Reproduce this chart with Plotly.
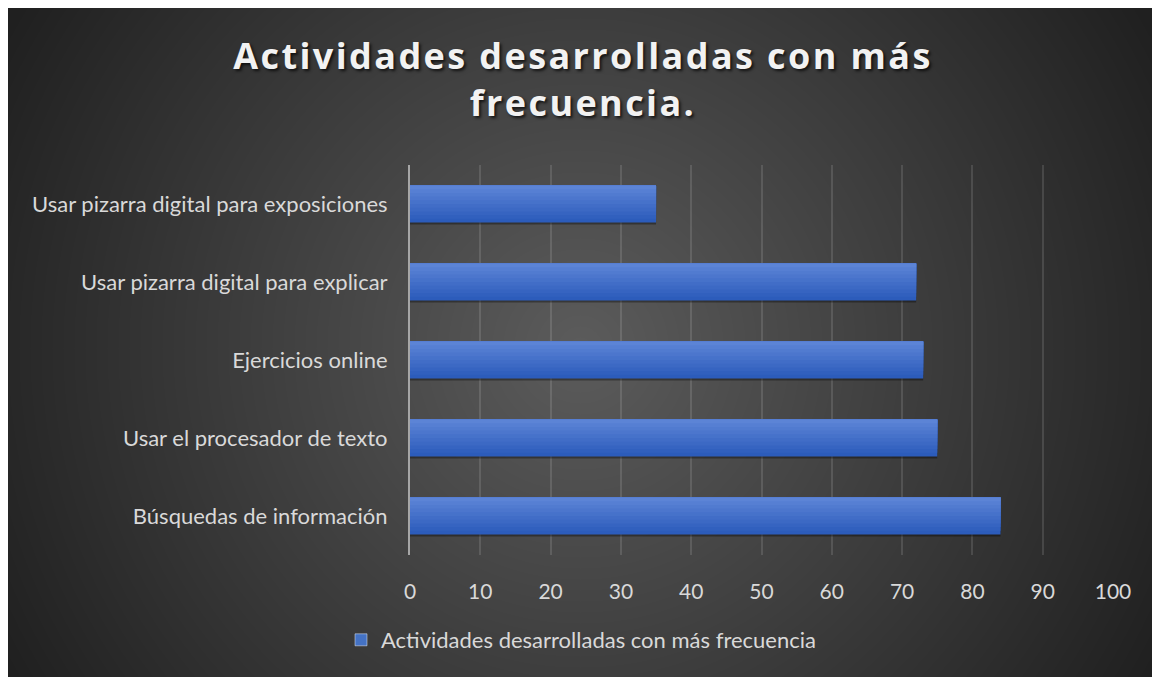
import base64
import struct
import zlib

import numpy as np
import plotly.graph_objects as go

# Datos
categorias = [
    "Búsquedas de información",
    "Usar el procesador de texto",
    "Ejercicios online",
    "Usar pizarra digital para explicar",
    "Usar pizarra digital para exposiciones",
]
valores = [84, 75, 73, 72, 35]
serie = "Actividades desarrolladas con más frecuencia"
titulo = "Actividades desarrolladas con más<br>frecuencia."
ticks_x = [0, 10, 20, 30, 40, 50, 60, 70, 80, 90, 100]

W, H = 1152, 677
L, R, T, B = 410, 39, 165, 122
pw, ph = W - L - R, H - T - B
borde = 8  # franja blanca arriba y a la izquierda


def fondo_radial(w, h, cx, cy):
    # degradado radial gris oscuro, como el estilo de Excel
    yy, xx = np.mgrid[0:h, 0:w]
    d = np.sqrt((xx - cx) ** 2 + (yy - cy) ** 2)
    v = 92 - 60 * np.clip(d / 660.0, 0, 1)
    img = v.astype(np.uint8)
    raw = b"".join(b"\x00" + img[i].tobytes() for i in range(h))

    def chunk(tag, data):
        c = struct.pack(">I", len(data)) + tag + data
        return c + struct.pack(">I", zlib.crc32(tag + data) & 0xFFFFFFFF)

    png = b"\x89PNG\r\n\x1a\n"
    png += chunk(b"IHDR", struct.pack(">IIBBBBB", w, h, 8, 0, 0, 0, 0))
    png += chunk(b"IDAT", zlib.compress(raw, 9))
    png += chunk(b"IEND", b"")
    return "data:image/png;base64," + base64.b64encode(png).decode()


bg = fondo_radial(W - borde, H - borde, 572, 340)

ancho = 0.474
fig = go.Figure()

# sombra bajo las barras
fig.add_trace(go.Bar(
    y=categorias, x=valores, orientation="h", width=ancho, offset=-ancho / 2 - 0.025,
    marker=dict(color="rgba(0,0,0,0.35)", line=dict(width=0)),
    showlegend=False, hoverinfo="skip",
))

# degradado vertical de las barras, por capas
n = 10
oscuro = np.array([44, 92, 187])
claro = np.array([92, 132, 214])
for k in range(n):
    h_k = ancho * (n - k) / n
    c = oscuro + (claro - oscuro) * k / (n - 1)
    fig.add_trace(go.Bar(
        y=categorias, x=valores, orientation="h", width=h_k, offset=ancho / 2 - h_k,
        marker=dict(color="rgb(%d,%d,%d)" % tuple(c), line=dict(width=0)),
        showlegend=False, hoverinfo="skip" if k else None,
    ))

# traza solo para la leyenda
fig.add_trace(go.Bar(
    y=[None], x=[None], orientation="h", name=serie,
    marker=dict(color="#4472c4"), showlegend=True,
))

fig.update_layout(
    width=W, height=H,
    margin=dict(l=L, r=R, t=T, b=B),
    paper_bgcolor="white",
    plot_bgcolor="rgba(0,0,0,0)",
    barmode="overlay",
    font=dict(family="Lato", color="#d9d9d9", size=22),
    title=dict(
        text=titulo, x=583 / W, xanchor="center", y=1 - 69 / H, yanchor="middle",
        xref="container", yref="container",
        font=dict(family="Open Sans", size=36, color="#f2f2f2", weight="bold",
                  shadow="2px 2px 3px rgba(0,0,0,0.7)"),
    ),
    legend=dict(
        orientation="h", x=(341 - L) / pw, xanchor="left", y=(T + ph - 640) / ph,
        yanchor="middle", font=dict(size=22, color="#d9d9d9"), bgcolor="rgba(0,0,0,0)",
    ),
    images=[dict(
        source=bg, xref="paper", yref="paper",
        x=(borde - L) / pw, y=1 + (T - borde) / ph,
        sizex=(W - borde) / pw, sizey=(H - borde) / ph,
        xanchor="left", yanchor="top", sizing="stretch", layer="below",
    )],
)

fig.update_xaxes(
    range=[0, 100], tickvals=ticks_x, showgrid=True,
    gridcolor="rgba(255,255,255,0.12)", gridwidth=2, zeroline=False,
    showline=False, ticks="", ticklabelstandoff=22,
    tickfont=dict(size=21, color="#d9d9d9"),
)
fig.update_yaxes(
    showgrid=False, zeroline=False, showline=True, linecolor="#a6a6a6",
    linewidth=2, ticks="", ticklabelstandoff=16,
    tickfont=dict(size=22, color="#d9d9d9"),
)

# la figura ocupa toda la ventana; espaciado de letras del título
extra = """
document.body.style.margin = '0';
document.body.style.overflow = 'hidden';
document.documentElement.style.overflow = 'hidden';
document.documentElement.style.background = '#262626';
document.querySelectorAll('.gtitle').forEach(function (e) {
    e.style.letterSpacing = '2.4px';
});
"""

fig.write_html("out.html", post_script=extra, config={"displayModeBar": False})
